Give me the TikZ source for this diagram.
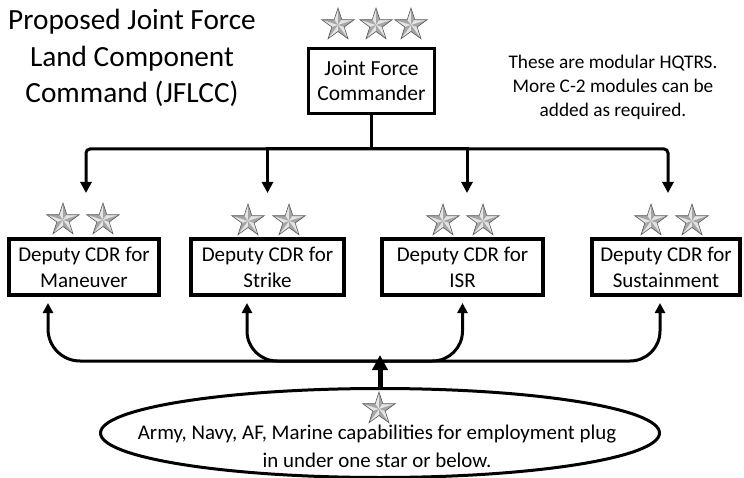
\documentclass[tikz,border=0pt]{standalone}
\usepackage{fontspec}
\setmainfont{Carlito}
\usetikzlibrary{positioning, arrows.meta, shapes.geometric}

\tikzset{
  cmdbox/.style={draw, line width=3pt, align=center, minimum width=126pt, minimum height=65pt, font=\fontsize{21.5}{25}\selectfont},
  depbox/.style={draw, line width=4pt, align=center, minimum height=56pt, font=\fontsize{21}{26}\selectfont},
  link/.style={line width=3pt},
  downarr/.style={-{Triangle[length=11pt,width=11pt]}},
  uparr/.style={-{Triangle[length=10pt,width=10pt]}},
  rankstar/.pic={
    \foreach \a in {90,162,234,306,378}{
      \fill[gray!20] (0,0) -- (\a:17pt) -- (\a+36:6.5pt) -- cycle;
      \fill[gray!70] (0,0) -- (\a:17pt) -- (\a-36:6.5pt) -- cycle;
    }
    \draw[gray!70!black, line width=0.6pt] (90:17pt) \foreach \a in {90,162,234,306,378}{-- (\a:17pt) -- (\a+36:6.5pt)} -- cycle;
  }
}

\begin{document}
\begin{tikzpicture}[x=1pt, y=-1pt]
 \useasboundingbox (0,0) rectangle (744,478);

 \node[align=center, font=\fontsize{29.3}{36.5}\selectfont] (title) at (132,58) {Proposed Joint Force\\Land Component\\Command (JFLCC)};
 \node[align=center, font=\fontsize{19.3}{24}\selectfont] (note) at (613,87) {These are modular HQTRS.\\More C-2 modules can be\\added as required.};

 \node[cmdbox] (jfc) at (371.5,81) {Joint Force\\Commander};
 \node[depbox, minimum width=150pt] (man) at (84,267) {Deputy CDR for\\Maneuver};
 \node[depbox, minimum width=153pt] (str) at (267.5,267) {Deputy CDR for\\Strike};
 \node[depbox, minimum width=161pt] (isr) at (462.5,267) {Deputy CDR for\\ISR};
 \node[depbox, minimum width=148pt] (sus) at (666,267) {Deputy CDR for\\Sustainment};

 \node[draw, ellipse, line width=3pt, minimum width=559pt, minimum height=89pt] (plug) at (380,433) {};
 \node[align=center, font=\fontsize{20.9}{28}\selectfont] (plugtext) at (377,446) {Army, Navy, AF, Marine capabilities for employment plug\\in under one star or below.};

 %stars
 \pic at (338,25) {rankstar};
 \pic at (376,25) {rankstar};
 \pic at (411,25) {rankstar};
 \pic at (63,220) {rankstar};
 \pic at (103,220) {rankstar};
 \pic at (248,221) {rankstar};
 \pic at (289,221) {rankstar};
 \pic at (443,221) {rankstar};
 \pic at (483,221) {rankstar};
 \pic at (651,221) {rankstar};
 \pic at (692,221) {rankstar};
 \pic at (379,409) {rankstar};

 %top links
 \coordinate (bus) at ([yshift=-34pt]jfc.south);
 \draw[link] (jfc.south) -- (bus);
 \draw[link, downarr, rounded corners=4pt] (bus) -| ([xshift=2pt,yshift=44pt]man.north);
 \draw[link, downarr] (bus) -| ([yshift=44pt]str.north);
 \draw[link, downarr] (bus) -| ([xshift=4.5pt,yshift=44pt]isr.north);
 \draw[link, downarr, rounded corners=4pt] (bus) -| ([xshift=2pt,yshift=44pt]sus.north);

 %bottom links
 \coordinate (hub) at ([yshift=26pt]plug.north);
 \draw[link, uparr, rounded corners=32pt] (hub) -| ([xshift=-36pt,yshift=-6pt]man.south);
 \draw[link, uparr, rounded corners=30pt] (hub) -| ([xshift=-20.5pt,yshift=-6pt]str.south);
 \draw[link, uparr, rounded corners=30pt] (hub) -| ([yshift=-6pt]isr.south);
 \draw[link, uparr, rounded corners=30pt] (hub) -| ([xshift=-6pt,yshift=-6pt]sus.south);
 \draw[link, line width=5pt, -{Triangle[length=15pt,width=15pt]}] (plug.north) -- ([yshift=6pt]hub);
\end{tikzpicture}
\end{document}
